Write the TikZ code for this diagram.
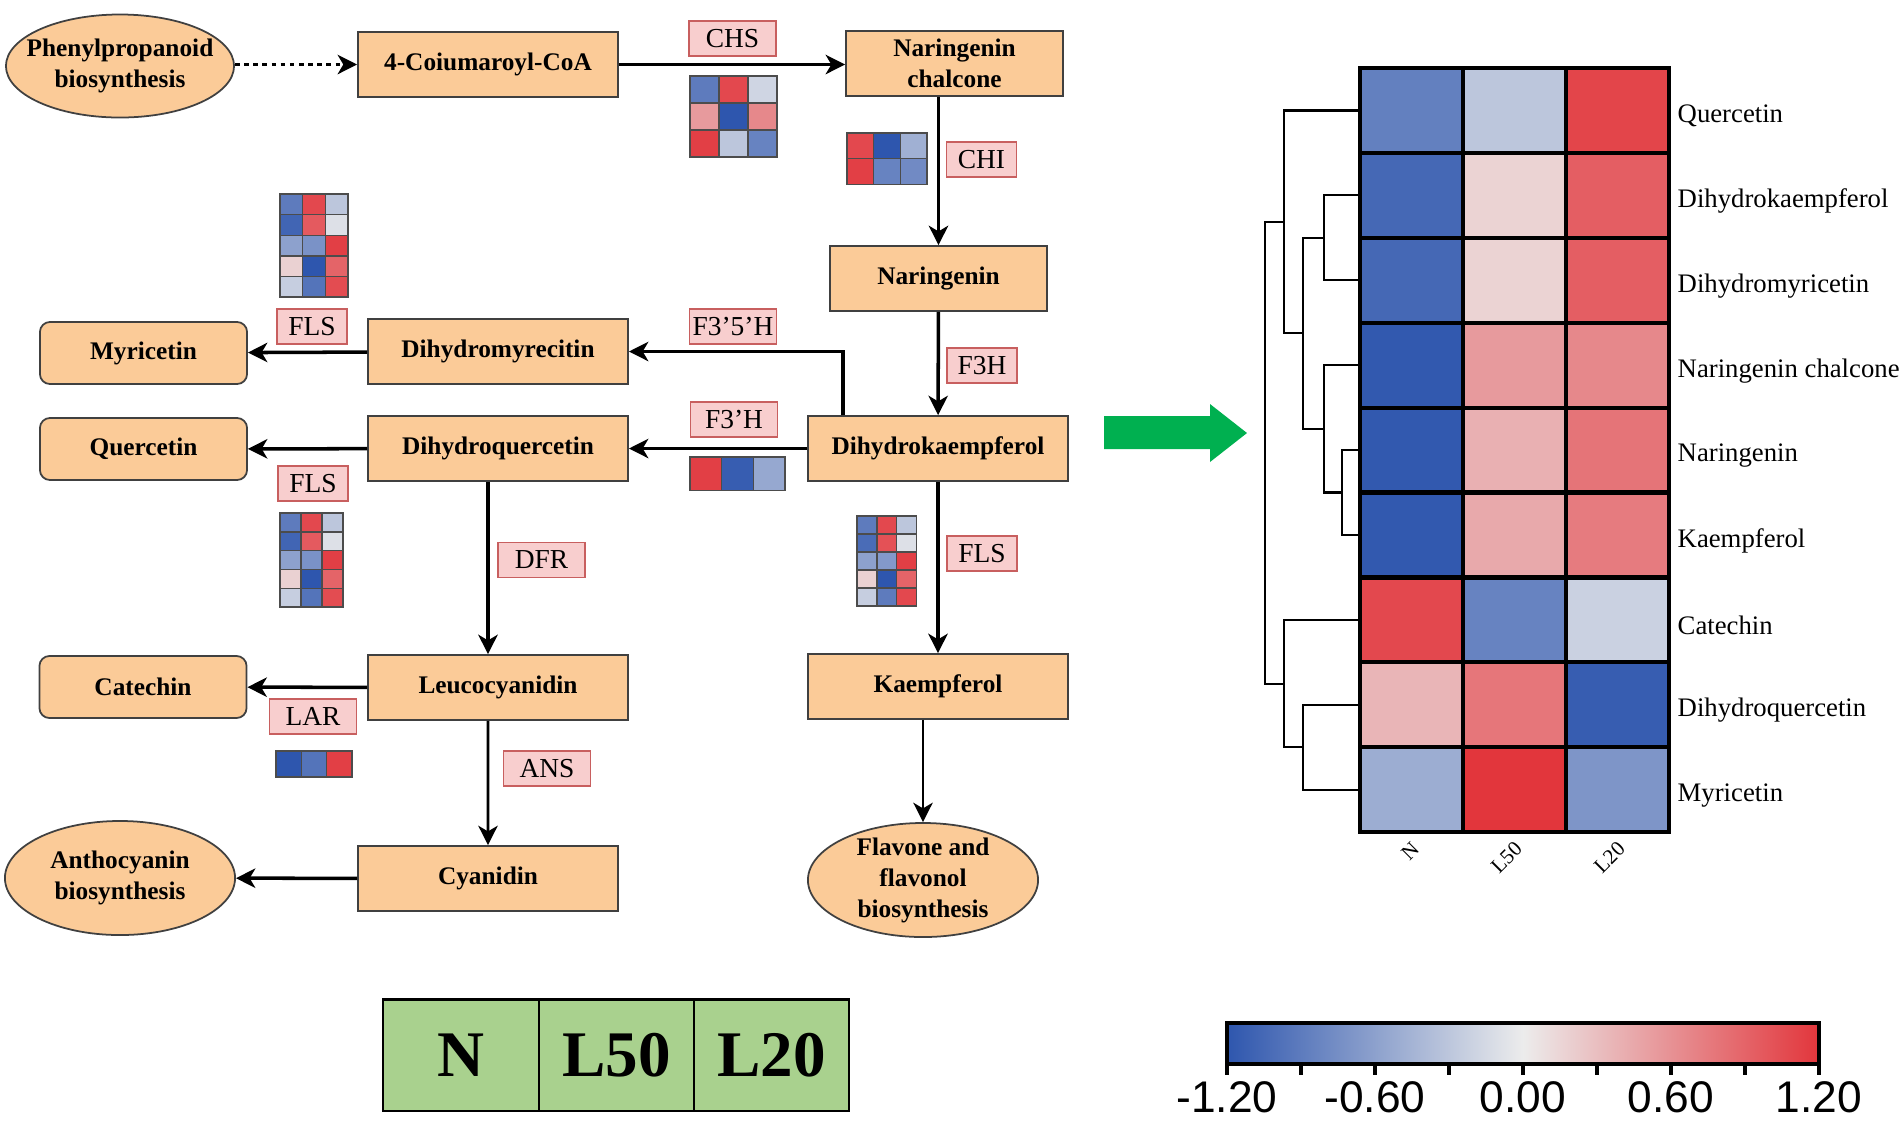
\documentclass[tikz,border=0pt]{standalone}
\usepackage{fontspec}
\setmainfont{Liberation Serif}
\newfontfamily\arialfont{Liberation Sans}
\usepackage{tikz}
\usetikzlibrary{arrows.meta,shapes.geometric}

\definecolor{peach}{RGB}{251,203,152}
\definecolor{boxline}{RGB}{64,64,64}
\definecolor{enzfill}{RGB}{248,206,206}
\definecolor{enzline}{RGB}{200,95,95}
\definecolor{legendgreen}{RGB}{169,209,142}
\definecolor{arrowgreen}{RGB}{0,176,80}
\definecolor{hb}{RGB}{46,86,174}
\definecolor{hw}{RGB}{236,236,236}
\definecolor{hr}{RGB}{226,54,60}

\newcommand{\heatgrid}[6][heatcell]{%
  \foreach \hrow [count=\ri from 0] in {#6}{
    \foreach \hcol [count=\ci from 0] in \hrow{
      \draw[#1,fill=\hcol] ({#2+\ci*#4},{#3+\ri*#5}) rectangle ++(#4,#5);
    }
  }
}

\begin{document}
\begin{tikzpicture}[x=0.01cm,y=-0.01cm,>={Stealth[length=5.5pt,width=5.5pt,inset=1.6pt]}]
	\tikzstyle{pbox}=[draw=boxline,line width=0.5pt,fill=peach,minimum width=2.6cm,minimum height=0.65cm,inner sep=0pt,font=\fontsize{7.2}{8.8}\selectfont\bfseries]
	\tikzstyle{pend}=[pbox,rounded corners=0.1cm,minimum width=2.07cm,minimum height=0.62cm]
	\tikzstyle{pathway}=[pbox,ellipse,minimum width=2.3cm,minimum height=1.14cm,inner xsep=-4pt,inner ysep=-1pt,align=center]
	\tikzstyle{enz}=[draw=enzline,line width=0.5pt,fill=enzfill,minimum width=0.7cm,minimum height=0.35cm,inner sep=0pt,font=\fontsize{7.8}{9}\selectfont]
	\tikzstyle{enzw}=[enz,minimum width=0.87cm]
	\tikzstyle{flow}=[->,line width=1pt,black]
	\tikzstyle{heatcell}=[draw=black!70,line width=0.4pt]
	\tikzstyle{bigcell}=[draw=black,line width=1.2pt]
	\tikzstyle{rowlab}=[anchor=west,inner sep=0pt,font=\fontsize{7.6}{9}\selectfont]
	\tikzstyle{collab}=[rotate=45,anchor=east,inner sep=0pt,font=\fontsize{6}{7}\selectfont]
	\tikzstyle{tree}=[line width=0.6pt,black]
	\tikzstyle{cblab}=[inner sep=0pt,font=\arialfont\fontsize{12.6}{14}\selectfont]
	\tikzstyle{legcell}=[draw=black,line width=0.6pt,fill=legendgreen,minimum width=1.555cm,minimum height=1.11cm,inner sep=0pt,font=\fontsize{18.5}{20}\selectfont\bfseries]
	
	\useasboundingbox (0,0) rectangle (1902,1120);
	
	\node[pathway,minimum width=2.28cm,minimum height=1.03cm,inner ysep=-3pt] (PB) at (120,66) {Phenylpropanoid\\biosynthesis};
	\node[pbox] (CoA) at (488,64.5) {4-Coiumaroyl-CoA};
	\node[pbox,minimum width=2.17cm,align=center] (NC) at (954.5,63.5) {Naringenin\\chalcone};
	\node[pbox,minimum width=2.17cm] (Nar) at (938.5,278.5) {Naringenin};
	\node[pbox] (DHK) at (938,448.5) {Dihydrokaempferol};
	\node[pbox] (Kae) at (938,686.5) {Kaempferol};
	\node[pathway] (FFB) at (923,880) {Flavone and\\flavonol\\biosynthesis};
	\node[pbox] (DHM) at (498,351.5) {Dihydromyrecitin};
	\node[pbox] (DHQ) at (498,448.5) {Dihydroquercetin};
	\node[pbox] (Leu) at (498,687.5) {Leucocyanidin};
	\node[pbox] (Cya) at (488,878.5) {Cyanidin};
	\node[pathway] (AB) at (120,878) {Anthocyanin\\biosynthesis};
	\node[pend] (Myr) at (143.5,353) {Myricetin};
	\node[pend] (Que) at (143.5,449) {Quercetin};
	\node[pend] (Cat) at (143,687) {Catechin};
	
	\node[enzw] (CHS) at (732.5,38.5) {CHS};
	\node[enz] (CHI) at (981.5,159.5) {CHI};
	\node[enz] (F3H) at (982,365.5) {F3H};
	\node[enz] (FLSk) at (982,553.5) {FLS};
	\node[enzw] (F35H) at (733,326.5) {F3’5’H};
	\node[enzw] (F3pH) at (734,419.5) {F3’H};
	\node[enz] (FLSm) at (312,326.5) {FLS};
	\node[enz] (FLSq) at (313,483.5) {FLS};
	\node[enzw] (DFR) at (541.5,560) {DFR};
	\node[enzw] (ANS) at (547,768.5) {ANS};
	\node[enzw] (LAR) at (313,716.5) {LAR};
	
	\draw[flow,dash pattern=on 1.3pt off 1.3pt] (PB.east |- CoA) -- (CoA);
	\draw[flow] (CoA.east) -- (CoA.east -| NC.west);
	\draw[flow] (NC.south -| Nar) -- (Nar.north);
	\draw[flow] (Nar) -- (DHK);
	\draw[flow] (DHK) -- (Kae);
	\draw[flow,line width=0.8pt] (Kae.south -| FFB.north) -- (FFB.north);
	\draw[flow] ([xshift=-0.95cm]DHK.north) |- (DHM);
	\draw[flow] (DHK) -- (DHQ);
	\draw[flow] (DHM) -- (Myr);
	\draw[flow] (DHQ) -- (Que);
	\draw[flow] ([xshift=-0.1cm]DHQ.south) -- ([xshift=-0.1cm]Leu.north);
	\draw[flow] (Leu) -- (Cat);
	\draw[flow,line width=0.8pt] ([xshift=-0.1cm]Leu.south) -- (Cya);
	\draw[flow] (Cya) -- (AB);
	
	\heatgrid{690}{76}{29}{27}{{hb!75!hw,hr!90!hw,hb!15!hw},{hr!45!hw,hb!100!hw,hr!55!hw},{hr!95!hw,hb!25!hw,hb!70!hw}}
	\heatgrid{847}{133}{26.7}{25.7}{{hr!90!hw,hb!100!hw,hb!40!hw},{hr!95!hw,hb!70!hw,hb!65!hw}}
	\heatgrid{280}{194}{22.7}{20.6}{{hb!75!hw,hr!90!hw,hb!25!hw},{hb!90!hw,hr!80!hw,hb!8!hw},{hb!50!hw,hb!60!hw,hr!95!hw},{hr!15!hw,hb!100!hw,hr!75!hw},{hb!20!hw,hb!80!hw,hr!88!hw}}
	\heatgrid{280}{513}{21}{18.8}{{hb!75!hw,hr!90!hw,hb!25!hw},{hb!90!hw,hr!80!hw,hb!8!hw},{hb!50!hw,hb!60!hw,hr!95!hw},{hr!15!hw,hb!100!hw,hr!75!hw},{hb!20!hw,hb!80!hw,hr!88!hw}}
	\heatgrid{857}{516}{19.8}{18}{{hb!75!hw,hr!90!hw,hb!25!hw},{hb!85!hw,hr!85!hw,hb!8!hw},{hb!50!hw,hb!55!hw,hr!95!hw},{hr!15!hw,hb!100!hw,hr!75!hw},{hb!20!hw,hb!75!hw,hr!90!hw}}
	\heatgrid{690}{457}{31.7}{33.3}{{hr!95!hw,hb!95!hw,hb!45!hw}}
	\heatgrid{276}{751}{25.3}{26}{{hb!100!hw,hb!80!hw,hr!95!hw}}
	
	\fill[arrowgreen] (1104,416) -- (1210,416) -- (1210,404) -- (1247,433) -- (1210,462) -- (1210,449) -- (1104,449) -- cycle;
	
	\heatgrid[bigcell]{1360}{68}{102.9}{84.9}{{hb!72!hw,hb!25!hw,hr!92!hw},{hb!88!hw,hr!14!hw,hr!78!hw},{hb!88!hw,hr!14!hw,hr!78!hw},{hb!98!hw,hr!45!hw,hr!55!hw},{hb!98!hw,hr!33!hw,hr!66!hw},{hb!98!hw,hr!37!hw,hr!62!hw},{hr!90!hw,hb!70!hw,hb!18!hw},{hr!30!hw,hr!65!hw,hb!95!hw},{hb!42!hw,hr!100!hw,hb!58!hw}}
	\foreach \lab [count=\i from 0] in {Quercetin,Dihydrokaempferol,Dihydromyricetin,Naringenin chalcone,Naringenin,Kaempferol,Catechin,Dihydroquercetin,Myricetin}
		\node[rowlab] (R\i) at (1677,{116+\i*84.9}) {\lab};
	\node[collab] (cN) at (1416,845) {N};
	\node[collab] (cL50) at (1519,845) {L50};
	\node[collab] (cL20) at (1622,845) {L20};
	
	\draw[tree] (1360,195.4) -| (1324,280.3) -- (1360,280.3);
	\draw[tree] (1360,450.1) -| (1342,535) -- (1360,535);
	\draw[tree] (1360,365.2) -| (1324,492.5) -- (1342,492.5);
	\draw[tree] (1324,237.9) -| (1303,428.9) -- (1324,428.9);
	\draw[tree] (1360,110.5) -| (1284,333.4) -- (1303,333.4);
	\draw[tree] (1360,704.8) -| (1303,789.7) -- (1360,789.7);
	\draw[tree] (1360,619.9) -| (1284,747.2) -- (1303,747.2);
	\draw[tree] (1284,222) -| (1265,683.6) -- (1284,683.6);
	
	\shade[left color=hb,right color=hr,middle color=hw] (1227,1023) rectangle (1819,1064);
	\draw[line width=1pt] (1227,1023) rectangle (1819,1064);
	\foreach \k in {0,...,8}
		\draw[line width=1pt] ({1227+\k*74},1064) -- ++(0,11);
	\foreach \v [count=\k from 0] in {-1.20,-0.60,0.00,0.60,1.20}
		\node[cblab] (cb\k) at ({1227+\k*148},1097) {\v};
	
	\node[legcell] (LN) at (461,1055) {N};
	\node[legcell] (L50) at (616.5,1055) {L50};
	\node[legcell] (L20) at (771.5,1055) {L20};
\end{tikzpicture}
\end{document}
